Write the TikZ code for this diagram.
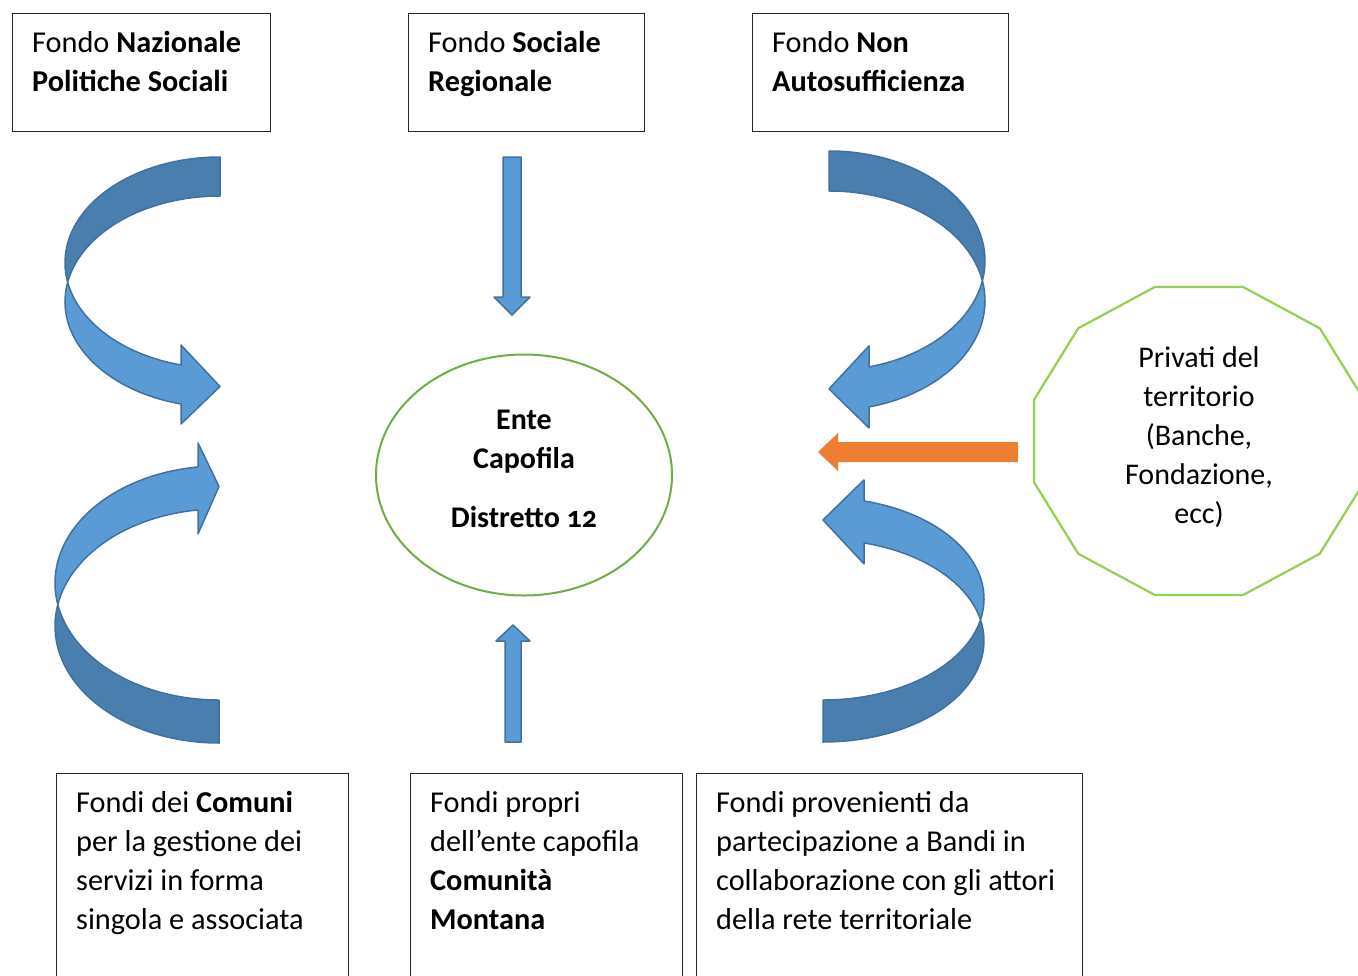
\documentclass[tikz,border=0pt]{standalone}
\usepackage{fontspec}
\setmainfont{Carlito}[Numbers=OldStyle]
\usetikzlibrary{positioning,shapes.geometric}
\definecolor{arrowBlue}{HTML}{5B9BD5}
\definecolor{arrowShade}{HTML}{4A7EAF}
\definecolor{arrowEdge}{HTML}{41719C}
\definecolor{enteGreen}{HTML}{70AD47}
\definecolor{privGreen}{HTML}{92D050}
\definecolor{privOrange}{HTML}{ED7D31}

% curved block arrow: scope options, x radius, y radius, band, head length, head overhang
\newcommand{\bendarrow}[6]{%
  \begin{scope}[#1]
    \pgfmathsetmacro{\bphi}{asin(#4/2/#3)}
    \pgfmathsetmacro{\bcrossA}{180-\bphi}
    \pgfmathsetmacro{\bcrossB}{180+\bphi}
    \pgfmathsetmacro{\bhead}{acos(-#5/#2)}
    \pgfmathsetmacro{\byin}{#3*sin(\bhead)}
    \pgfmathsetmacro{\byout}{#4+\byin}
    \pgfmathsetmacro{\btip}{(\byin+\byout)/2+2}
    \filldraw[bandback] (0,-#3)
      arc[start angle=270,end angle=\bcrossA,x radius=#2,y radius=#3]
      arc[start angle=\bcrossB,end angle=270,x radius=#2,y radius=#3] -- cycle;
    \filldraw[bandfront] (\bcrossA:#2 and #3)
      arc[start angle=\bcrossB,end angle=\bhead,x radius=#2,y radius=#3]
      -- (-#5,\byout+#6) -- (0,\btip) -- (-#5,\byin-#6) -- (-#5,\byin)
      arc[start angle=\bhead,end angle=\bcrossA,x radius=#2,y radius=#3] -- cycle;
  \end{scope}}

\begin{document}
\begin{tikzpicture}[x=1pt,y=-1pt,
  fundbox/.style={draw=black!85,line width=1.2pt,rectangle,anchor=north west,inner sep=0pt},
  fundtext/.style={align=left,inner sep=0pt,font=\fontsize{30.3}{39}\selectfont},
  bandback/.style={fill=arrowShade,draw=arrowEdge,line width=1.5pt,line join=round},
  bandfront/.style={fill=arrowBlue,draw=arrowEdge,line width=1.5pt,line join=round},
  blockarrow/.style={fill=arrowBlue,draw=arrowEdge,line width=1.5pt,line join=round}]
  \useasboundingbox (0,0) rectangle (1358,975);

  % fondi in alto
  \node[fundbox,minimum width=258pt,minimum height=118pt] (fnps) at (12,13) {};
  \node[fundtext,below right=11.7pt and 20pt of fnps.north west] (fnpsT) {\strut Fondo \textbf{Nazionale}\\\textbf{Politiche Sociali}};
  \node[fundbox,minimum width=236pt,minimum height=118pt] (fsr) at (408,13) {};
  \node[fundtext,below right=11.7pt and 20pt of fsr.north west] (fsrT) {\strut Fondo \textbf{Sociale}\\\textbf{Regionale}};
  \node[fundbox,minimum width=256pt,minimum height=118pt] (fna) at (752,13) {};
  \node[fundtext,below right=11.7pt and 20pt of fna.north west] (fnaT) {\strut Fondo \textbf{Non}\\\textbf{Autosufficienza}};

  % fondi in basso
  \node[fundbox,minimum width=292pt,minimum height=230pt] (fcom) at (56,773) {};
  \node[fundtext,below right=11.7pt and 20pt of fcom.north west] (fcomT) {\strut Fondi dei \textbf{Comuni}\\per la gestione dei\\servizi in forma\\singola e associata};
  \node[fundbox,minimum width=272pt,minimum height=230pt] (fprop) at (410,773) {};
  \node[fundtext,below right=11.7pt and 20pt of fprop.north west] (fpropT) {\strut Fondi propri\\dell’ente capofila\\\textbf{Comunità}\\\textbf{Montana}};
  \node[fundbox,minimum width=386pt,minimum height=230pt] (fbandi) at (696,773) {};
  \node[fundtext,below right=11.7pt and 20pt of fbandi.north west] (fbandiT) {\strut Fondi provenienti da\\partecipazione a Bandi in\\collaborazione con gli attori\\della rete territoriale};

  % ente capofila
  \node[ellipse,draw=enteGreen,line width=2pt,minimum width=296pt,minimum height=241pt,inner sep=0pt,
    align=center,font=\fontsize{30}{39}\selectfont\bfseries] (ente) at (524,475) {Ente\\Capofila\\[20pt]Distretto 12\strut};

  % privati
  \draw[privGreen,line width=2.2pt] plot[samples at={15,45,...,345}] ({1199+170.8*cos(\x)},{441+159.4*sin(\x)}) -- cycle;
  \node[align=center,inner sep=0pt,font=\fontsize{30}{39}\selectfont] (privati) at (1199,438) {\strut Privati del\\territorio\\(Banche,\\Fondazione,\\ecc)\strut};

  % frecce
  \bendarrow{shift={(220,262.7)}}{155}{105.7}{39}{39}{20}
  \bendarrow{shift={(219,626)},yscale=-1}{164}{117}{43}{21}{24}
  \bendarrow{shift={(829,260.8)},xscale=-1}{156}{109.8}{40}{40}{21}
  \bendarrow{shift={(823,640.8)},xscale=-1,yscale=-1}{161}{101.2}{42}{41}{21}
  \filldraw[blockarrow] (503,157) -- (521,157) -- (521,297) -- (530,297) -- (512,315) -- (494,297) -- (503,297) -- cycle;
  \filldraw[blockarrow] (505,742) -- (521,742) -- (521,641) -- (530,641) -- (513,625) -- (496,641) -- (505,641) -- cycle;
  \fill[privOrange] (1018,442) -- (838,442) -- (838,433) -- (818,452) -- (838,471) -- (838,462) -- (1018,462) -- cycle;
\end{tikzpicture}
\end{document}
